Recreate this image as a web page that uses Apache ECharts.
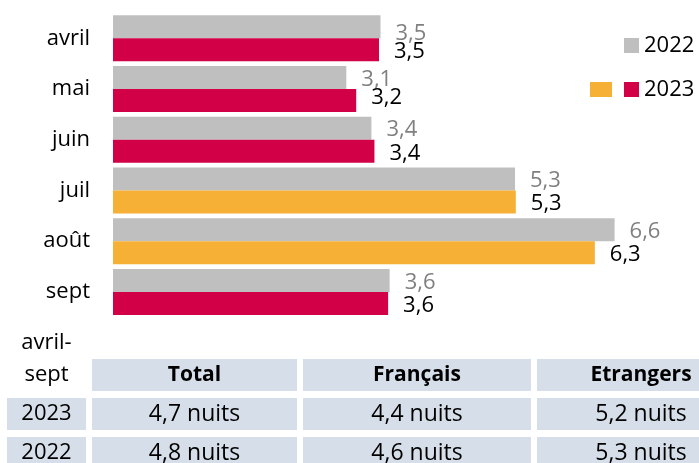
<!DOCTYPE html>
<html>
<head>
<meta charset="utf-8">
<script src="https://cdn.jsdelivr.net/npm/echarts@6/dist/echarts.min.js"></script>
<style>
html,body{margin:0;padding:0;background:#fff;}
#chart{width:699px;height:463px;}
</style>
</head>
<body>
<div id="chart"></div>
<script>
// ---- data ----
const months = ['avril', 'mai', 'juin', 'juil', 'août', 'sept'];
const values2022 = [3.52, 3.07, 3.40, 5.29, 6.60, 3.64];
const values2023 = [3.50, 3.20, 3.44, 5.30, 6.34, 3.62];
const summerMonths = ['juil', 'août'];
const tableTitle = ['avril-', 'sept'];
const tableHeaders = ['Total', 'Français', 'Etrangers'];
const tableYears = ['2023', '2022'];
const avg2023 = [4.7, 4.4, 5.2];
const avg2022 = [4.8, 4.6, 5.3];

// ---- style ----
const FONT = 'Open Sans';
const GREY = '#BFBFBF';
const CRIMSON = '#D20047';
const ORANGE = '#F5B035';
const CELL = '#D6DFE9';

const fmt = v => v.toFixed(1).replace('.', ',');

const chart = echarts.init(document.getElementById('chart'));

// table graphics
const cols = [{x: 92, w: 205}, {x: 303, w: 228}, {x: 537, w: 208}];
const yearCol = {x: 7, w: 79};
const rowH = 32;
const headerY = 359;
const rowYs = [398, 437];
const graphics = [];

function cellRect(x, y, w, h) {
  graphics.push({type: 'rect', shape: {x: x, y: y, width: w, height: h}, style: {fill: CELL}, silent: true});
}
function cellText(txt, cx, cy, bold, size) {
  graphics.push({type: 'text', x: cx, y: cy, style: {text: txt, fill: '#000', font: (bold ? 'bold ' : '') + (size || 22) + 'px "' + FONT + '"', textAlign: 'center', textVerticalAlign: 'middle'}, silent: true});
}
// title "avril- / sept"
cellText(tableTitle[0], 46.5, 343, false);
cellText(tableTitle[1], 46.5, 375, false);
// header
tableHeaders.forEach((h, i) => {
  cellRect(cols[i].x, headerY, cols[i].w, rowH);
  cellText(h, cols[i].x + cols[i].w / 2, headerY + rowH / 2, true, 21);
});
[avg2023, avg2022].forEach((row, r) => {
  const y = rowYs[r];
  cellRect(yearCol.x, y, yearCol.w, rowH);
  cellText(tableYears[r], yearCol.x + yearCol.w / 2, y + rowH / 2, false);
  row.forEach((v, i) => {
    cellRect(cols[i].x, y, cols[i].w, rowH);
    cellText(fmt(v) + ' nuits', cols[i].x + cols[i].w / 2, y + rowH / 2, false, 23);
  });
});
// extra orange legend swatch
graphics.push({type: 'rect', shape: {x: 590, y: 82, width: 22, height: 15}, style: {fill: ORANGE}, silent: true});

const data2022 = values2022.map((v, i) => {
  const item = {value: v};
  if (i === 0) item.label = {offset: [0, 7]};
  return item;
});
const data2023 = values2023.map((v, i) => {
  const item = {value: v};
  if (summerMonths.includes(months[i])) item.itemStyle = {color: ORANGE};
  if (i === 1) item.label = {offset: [0, -3]};
  return item;
});

chart.setOption({
  animation: false,
  backgroundColor: '#fff',
  textStyle: {fontFamily: FONT},
  grid: {left: 113, right: 16, top: 12.9, bottom: 145.7},
  legend: {
    orient: 'vertical',
    left: 624,
    top: 34.5,
    padding: 0,
    itemWidth: 15,
    itemHeight: 15,
    itemGap: 22,
    icon: 'rect',
    textStyle: {fontSize: 22, color: '#000', fontFamily: FONT},
    data: ['2022', '2023']
  },
  xAxis: {type: 'value', min: 0, max: 7.5, show: false},
  yAxis: {
    type: 'category',
    data: months,
    inverse: true,
    axisLine: {show: false},
    axisTick: {show: false},
    axisLabel: {fontSize: 22, color: '#000', margin: 23, fontFamily: FONT}
  },
  series: [
    {
      name: '2022', type: 'bar', data: data2022,
      itemStyle: {color: GREY},
      barGap: '0%', barCategoryGap: '9.3%',
      label: {show: true, position: 'right', distance: 15, offset: [0, 2], color: '#808080', fontSize: 22, fontFamily: FONT, formatter: p => fmt(p.value)}
    },
    {
      name: '2023', type: 'bar', data: data2023,
      itemStyle: {color: CRIMSON},
      barGap: '0%', barCategoryGap: '9.3%',
      label: {show: true, position: 'right', distance: 15, offset: [0, 2], color: '#000', fontSize: 22, fontFamily: FONT, formatter: p => fmt(p.value)}
    }
  ],
  graphic: graphics
});
</script>
</body>
</html>
